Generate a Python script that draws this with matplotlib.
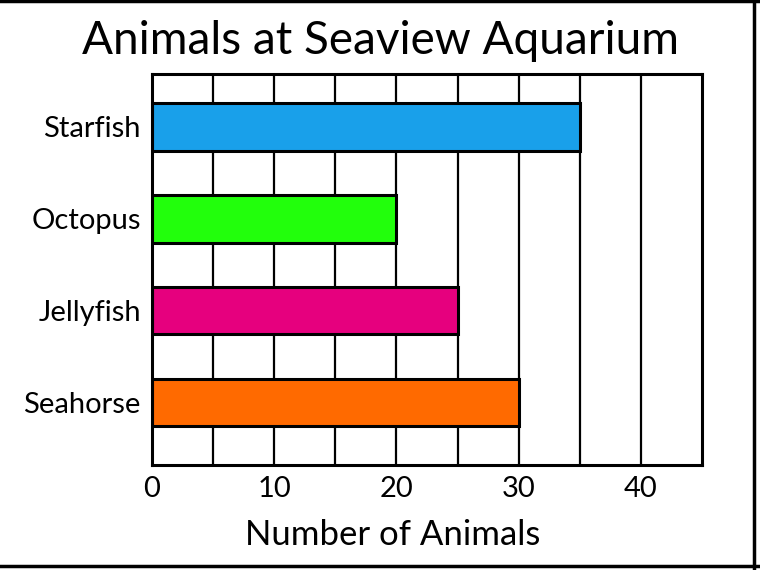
import matplotlib
matplotlib.use("Agg")
import matplotlib.pyplot as plt
from matplotlib.lines import Line2D

categories = ["Starfish", "Octopus", "Jellyfish", "Seahorse"]
values = [35, 20, 25, 30]
colors = ["#19a0ea", "#22ff0c", "#e6007e", "#ff6a00"]
x_ticks = [0, 10, 20, 30, 40]
title = "Animals at Seaview Aquarium"
xlabel = "Number of Animals"

plt.rcParams['font.family'] = ['Lato', 'DejaVu Sans']
plt.rcParams['font.weight'] = 'normal'

fig = plt.figure(figsize=(7.6, 5.7), dpi=100)
ax = fig.add_axes([152/760, 1-465/570, (702-152)/760, (465-74)/570])

ax.set_axisbelow(True)
for g in range(5, 45, 5):
    ax.axvline(g, color="black", lw=1.6, zorder=0)

pos = list(range(len(categories)))
ax.barh(pos, values, height=0.52, color=colors, edgecolor="black", linewidth=2.2, zorder=2)

ax.set_xlim(0, 45)
ax.set_ylim(3.68, -0.573)
ax.set_yticks(pos)
ax.set_yticklabels(categories, fontsize=21)
ax.set_xticks(x_ticks)
ax.set_xticklabels([str(t) for t in x_ticks], fontsize=21)
ax.tick_params(length=0, pad=8)
for s in ax.spines.values():
    s.set_linewidth(2.2)
    s.set_color("black")

fig.text(0.5, 1-41/570, title, ha="center", va="center", fontsize=33)
fig.text((248+538)/2/760, 1-535/570, xlabel, ha="center", va="center", fontsize=25)

# frame edges of the original image
fig.add_artist(Line2D([0, 1], [1-1/570, 1-1/570], color="black", lw=2.5, transform=fig.transFigure))
fig.add_artist(Line2D([754/760, 754/760], [0, 1], color="black", lw=2.5, transform=fig.transFigure))
fig.add_artist(Line2D([0, 1], [1-566/570, 1-566/570], color="black", lw=2.5, transform=fig.transFigure))

fig.savefig("out.png", dpi=100)
